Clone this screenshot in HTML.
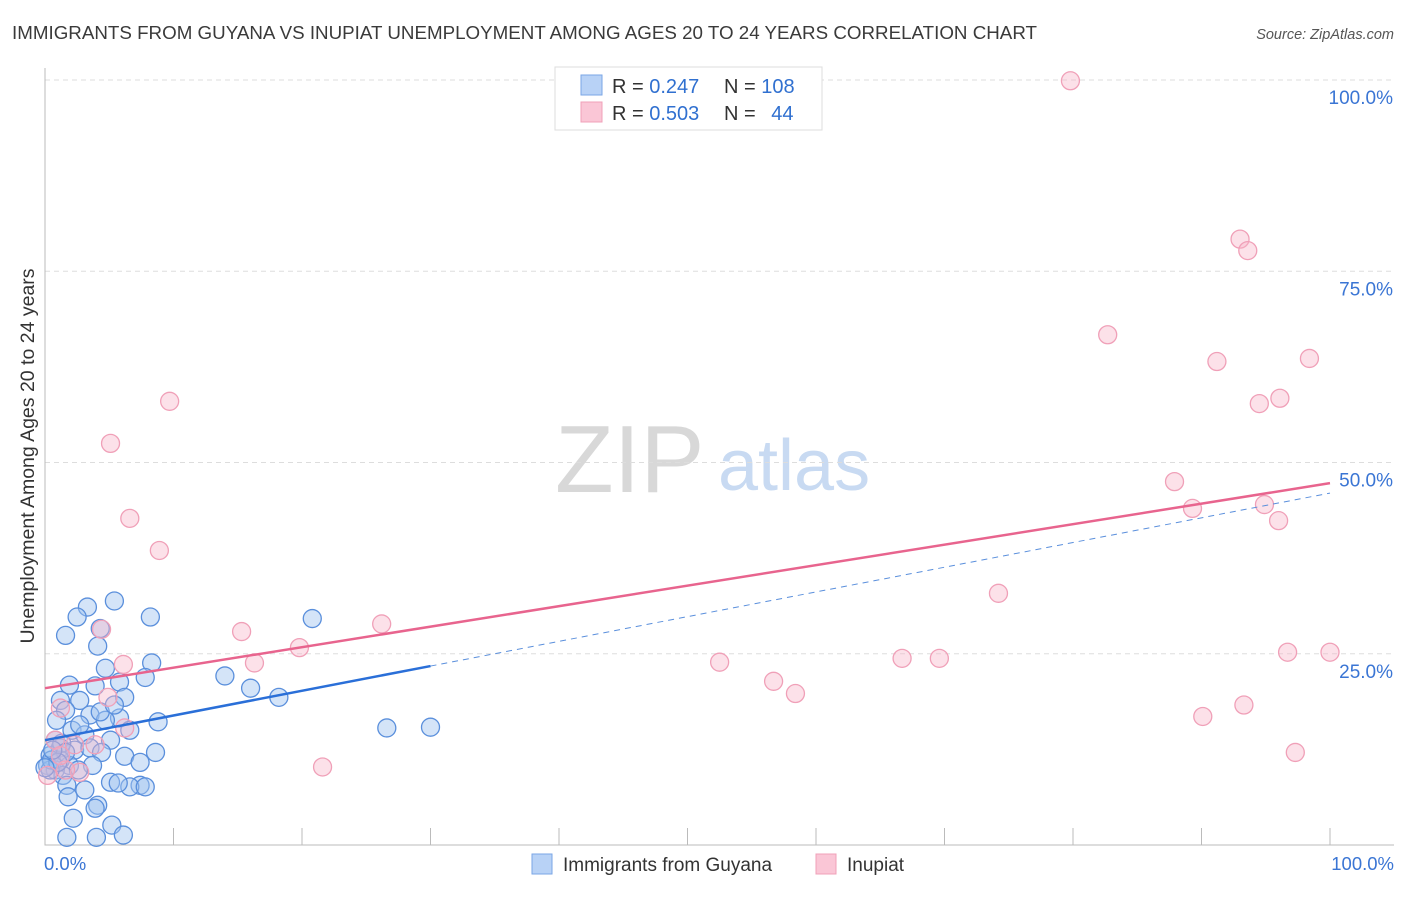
<!DOCTYPE html>
<html><head><meta charset="utf-8"><style>
body{margin:0;background:#fff;font-family:"Liberation Sans",sans-serif}
svg text{font-family:"Liberation Sans",sans-serif}
</style></head><body>
<svg id="c" width="1406" height="892" xmlns="http://www.w3.org/2000/svg">
<text x="12" y="39" font-size="18.6" fill="#3a3a3a" textLength="1025" lengthAdjust="spacingAndGlyphs">IMMIGRANTS FROM GUYANA VS INUPIAT UNEMPLOYMENT AMONG AGES 20 TO 24 YEARS CORRELATION CHART</text>
<text x="1394" y="39" font-size="14.5" fill="#555" font-style="italic" text-anchor="end">Source: ZipAtlas.com</text>
<text transform="translate(34,456) rotate(-90)" font-size="19.5" fill="#333" text-anchor="middle">Unemployment Among Ages 20 to 24 years</text>
<g>
<text x="555" y="492" font-size="96" fill="#d8d8d8" font-family="Liberation Serif,serif">ZIP</text>
<text x="718" y="490" font-size="72" fill="#c8daf2">atlas</text>
</g>
<g id="grid"></g>
<g id="pts"></g>
<g id="lines"></g>
<g>
<rect x="555" y="67" width="267" height="63" fill="#fff" stroke="#ddd"/>
<rect x="581" y="75" width="21" height="20" fill="#b8d2f6" stroke="#7aa6e6"/>
<rect x="581" y="102" width="21" height="20" fill="#fac6d6" stroke="#f0a0b8"/>
<text x="612" y="93" font-size="20" fill="#333">R = <tspan fill="#3070d0">0.247</tspan></text>
<text x="724" y="93" font-size="20" fill="#333">N = <tspan fill="#3070d0">108</tspan></text>
<text x="612" y="120" font-size="20" fill="#333">R = <tspan fill="#3070d0">0.503</tspan></text>
<text x="724" y="120" font-size="20" fill="#333">N = <tspan fill="#3070d0" dx="10">44</tspan></text>
</g>
<g>
<rect x="532" y="854" width="20" height="20" fill="#b8d2f6" stroke="#7aa6e6"/>
<text x="563" y="871" font-size="19" fill="#333">Immigrants from Guyana</text>
<rect x="816" y="854" width="20" height="20" fill="#fac6d6" stroke="#f0a0b8"/>
<text x="847" y="871" font-size="19" fill="#333">Inupiat</text>
</g>
<text x="44" y="870" font-size="18.5" fill="#3a75d4">0.0%</text>
<text x="1394" y="870" font-size="18.5" fill="#3a75d4" text-anchor="end">100.0%</text>
</svg>
<script>
const yTicks=[25,50,75,100];
const yTickLabels=["25.0%","50.0%","75.0%","100.0%"];
const blueX=[5.4,3.3,2.5,8.2,1.6,4.3,4.1,8.3,4.7,7.8,5.8,1.9,14.0,16.0,3.9,18.2,6.2,20.8,26.6,30.0,1.2,2.7,1.6,3.5,5.8,8.8,4.7,2.1,3.1,5.1,6.6,0.8,1.2,2.3,3.5,6.2,8.6,7.4,4.4,0.4,1.2,1.9,3.7,0.2,0.8,2.6,1.4,1.7,3.1,5.1,7.4,6.6,5.7,7.8,1.8,4.1,3.9,2.2,5.2,1.7,4.0,6.1,0.4,0.5,1.3,2.7,4.3,5.4,0.9,1.6,1.0,0.0,0.6];
const blueY=[31.9,31.1,29.8,29.8,27.4,28.3,26.0,23.8,23.1,21.9,21.3,20.9,22.1,20.5,20.8,19.3,19.3,29.6,15.3,15.4,18.9,18.9,17.6,17.0,16.6,16.1,16.3,15.0,14.4,13.7,15.0,13.7,12.7,12.4,12.7,11.6,12.1,10.8,12.1,11.7,11.1,10.4,10.4,10.4,9.8,9.8,9.1,7.8,7.2,8.2,7.8,7.6,8.1,7.6,6.3,5.2,4.8,3.5,2.6,1.0,1.0,1.3,9.8,11.1,13.3,15.7,17.4,18.3,16.3,12.1,10.8,10.1,12.4];
const pinkX=[79.8,93.0,93.6,82.7,91.2,98.4,94.5,96.1,9.7,5.1,6.6,8.9,87.9,89.3,94.9,96.0,74.2,15.3,4.4,19.8,16.3,6.1,52.5,66.7,69.6,56.7,58.4,96.7,100.0,90.1,93.3,97.3,21.6,26.2,1.2,4.9,6.2,2.7,0.2,2.3,3.9,0.8,1.6,1.2];
const pinkY=[99.9,79.2,77.7,66.7,63.2,63.6,57.7,58.4,58.0,52.5,42.7,38.5,47.5,44.0,44.5,42.4,32.9,27.9,28.2,25.8,23.8,23.6,23.9,24.4,24.4,21.4,19.8,25.2,25.2,16.8,18.3,12.1,10.2,28.9,17.9,19.3,15.3,9.5,9.1,13.1,13.1,13.7,9.8,11.7];
const blueTrend=[13.7,46.0];
const pinkTrend=[20.5,47.3];
const NS="http://www.w3.org/2000/svg";
const X0=45,X1=1330,Y0=845,Y100=80;
const sx=v=>X0+(X1-X0)*v/100;
const sy=v=>Y0-(Y0-Y100)*v/100;
function mk(t,a,p){const e=document.createElementNS(NS,t);for(const k in a)e.setAttribute(k,a[k]);p.appendChild(e);return e;}
const svg=document.getElementById('c'),grid=document.getElementById('grid'),pts=document.getElementById('pts'),lines=document.getElementById('lines');
yTicks.forEach((t,i)=>{
 const l=mk('line',{x1:X0,x2:1394,y1:sy(t),y2:sy(t),stroke:'#ddd','stroke-dasharray':'5,4'},grid);
 
 
 const tx=mk('text',{x:1393,y:sy(t)+24,'font-size':19,fill:'#3a75d4','text-anchor':'end'},grid);
 tx.textContent=yTickLabels[i];
 
 
});
const ax=mk('path',{d:`M${X0},68V${Y0}H1394`,stroke:'#bbb',fill:'none'},grid);


for(let i=0;i<=10;i++){
 const tk=mk('line',{x1:sx(i*10),x2:sx(i*10),y1:828,y2:Y0,stroke:'#bbb'},grid);
 
 
}
blueX.forEach((x,i)=>{
 const c=mk('circle',{cx:sx(x),cy:sy(blueY[i]),r:9,fill:'rgba(160,195,240,0.45)',stroke:'#5a8fdc','stroke-width':1.3},pts);
 
 
});
pinkX.forEach((x,i)=>{
 const c=mk('circle',{cx:sx(x),cy:sy(pinkY[i]),r:9,fill:'rgba(248,180,200,0.4)',stroke:'#f0a0b8','stroke-width':1.3},pts);
 
 
});
const bAt=x=>blueTrend[0]+(blueTrend[1]-blueTrend[0])*x/100;
const l1=mk('line',{x1:sx(0),y1:sy(bAt(0)),x2:sx(30),y2:sy(bAt(30)),stroke:'#2a6fd8','stroke-width':2.5},lines);


const l2=mk('line',{x1:sx(30),y1:sy(bAt(30)),x2:sx(100),y2:sy(bAt(100)),stroke:'#5a8fdc','stroke-width':1,'stroke-dasharray':'6,5'},lines);


const l3=mk('line',{x1:sx(0),y1:sy(pinkTrend[0]),x2:sx(100),y2:sy(pinkTrend[1]),stroke:'#e8648e','stroke-width':2.5},lines);


</script>
</body></html>
